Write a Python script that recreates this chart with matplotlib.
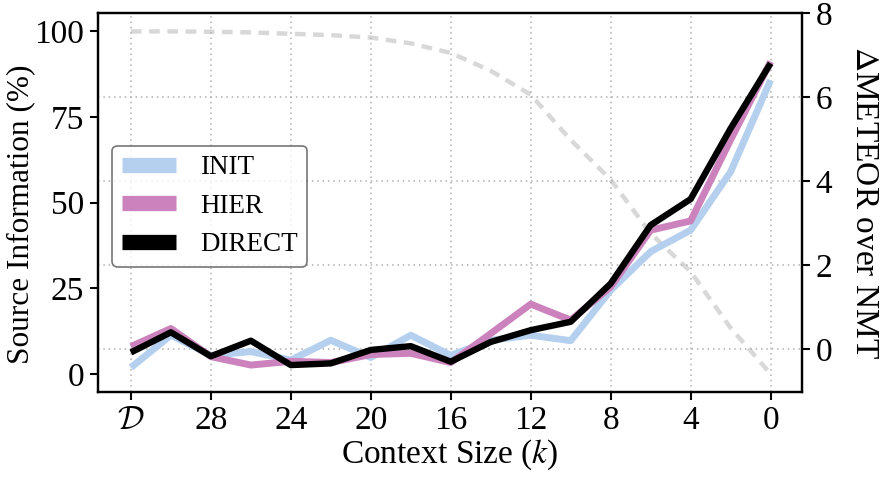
import matplotlib
matplotlib.use("Agg")
import matplotlib.pyplot as plt
import numpy as np

plt.rcParams['font.family'] = ['Liberation Serif', 'DejaVu Serif']
plt.rcParams['mathtext.fontset'] = 'stix'

# x positions: D, 30, 28, ..., 0
context_labels = ['D', '30', '28', '26', '24', '22', '20', '18', '16', '14', '12', '10', '8', '6', '4', '2', '0']
tick_labels = [r'$\mathcal{D}$', '28', '24', '20', '16', '12', '8', '4', '0']

source_info = [100, 100, 99.9, 99.7, 99.3, 98.9, 98.2, 96.5, 93.7, 88.5, 81.5, 68.3, 56.7, 41.0, 29.8, 13.4, 0.0]

init = [-0.44, 0.33, -0.15, -0.06, -0.26, 0.21, -0.2, 0.33, -0.15, 0.21, 0.33, 0.2, 1.4, 2.32, 2.83, 4.22, 6.4]
hier = [0.06, 0.49, -0.18, -0.38, -0.29, -0.32, -0.13, -0.1, -0.32, 0.37, 1.07, 0.69, 1.48, 2.83, 3.05, 4.98, 6.84]
direct = [-0.08, 0.4, -0.17, 0.2, -0.38, -0.34, -0.02, 0.07, -0.3, 0.17, 0.45, 0.65, 1.56, 2.95, 3.57, 5.25, 6.8]

series_names = ['INIT', 'HIER', 'DIRECT']
series_colors = ['#b5d0ef', '#cc83bd', '#000000']

x = np.arange(len(context_labels))

fig = plt.figure(figsize=(8.84, 4.78), dpi=100)
ax = fig.add_axes([0.111, 0.18, 0.796, 0.793])
ax2 = ax.twinx()

ax.plot(x, source_info, linestyle=(0, (2.4, 1.7)), color='#d8d8d8', linewidth=3.2, zorder=1)
ax.set_ylim(-5.3, 105.4)
ax.set_yticks([0, 25, 50, 75, 100])
ax.set_ylabel('Source Information (%)', fontsize=22.5)
ax.yaxis.set_label_coords(-0.09, 0.47)

lws = [5.0, 5.0, 4.6]
for vals, name, c, lw in zip([init, hier, direct], series_names, series_colors, lws):
    ax2.plot(x, vals, color=c, linewidth=lw, label=name, solid_capstyle='butt')
ax2.set_ylim(-1.02, 8)
ax2.set_yticks([0, 2, 4, 6, 8])
ax2.set_ylabel(r'$\Delta$METEOR over NMT', fontsize=24, rotation=270, labelpad=34)
ax2.grid(axis='y', linestyle=(0, (1, 2.5)), color='#b0b0b0', linewidth=1.1)

ax.set_xlim(-0.82, 16.78)
ax.set_xticks(x[::2])
ax.set_xticklabels(tick_labels)
ax.get_xticklabels()[0].set_math_fontfamily('cm')
ax.xaxis.grid(True, linestyle=(0, (1, 2.5)), color='#b0b0b0', linewidth=1.1)
ax.set_xlabel(r'Context Size ($k$)', fontsize=24, labelpad=1)

for a in (ax, ax2):
    a.tick_params(labelsize=24, width=1.5, length=6, direction='out', pad=4)
    for s in a.spines.values():
        s.set_linewidth(1.6)

leg = ax2.legend(loc='center left', bbox_to_anchor=(0.02, 0.49), fontsize=19.5,
                 frameon=True, fancybox=True, edgecolor='#555555', handlelength=2.0,
                 handletextpad=0.9, borderpad=0.35, labelspacing=0.5, borderaxespad=0)
leg.get_frame().set_linewidth(1.2)
for h in leg.get_lines():
    h.set_linewidth(11)

fig.savefig('out.png', dpi=100)
